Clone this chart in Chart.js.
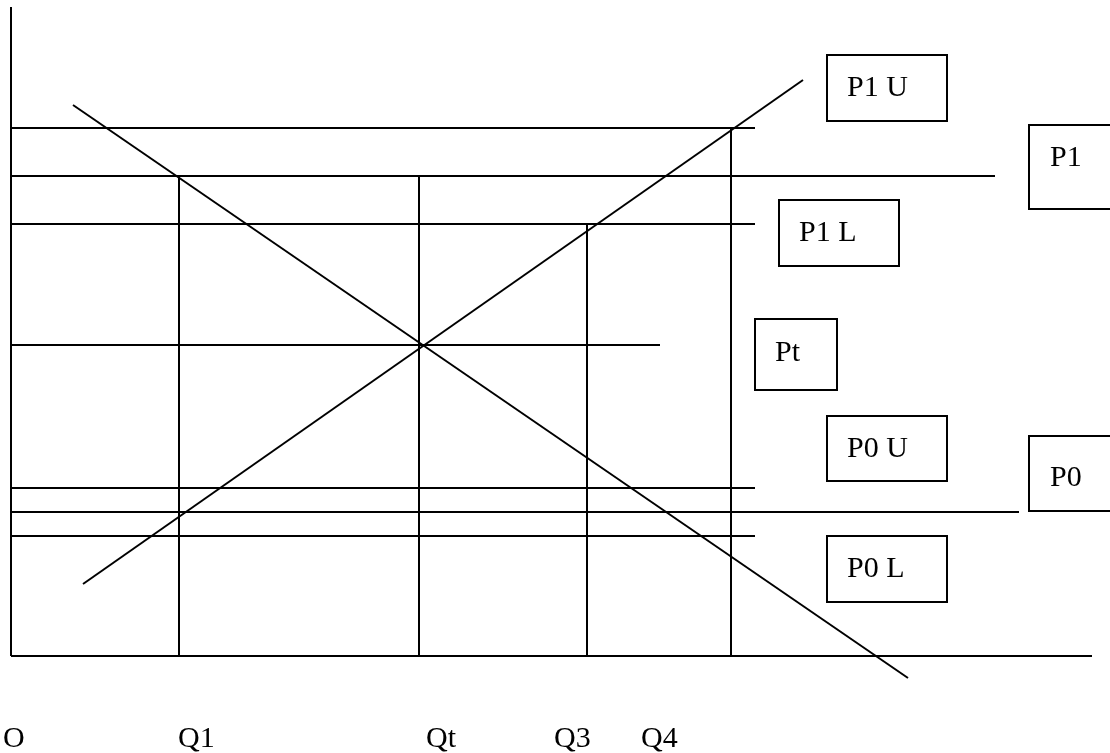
<!DOCTYPE html>
<html>
<head>
<meta charset="utf-8">
<script src="https://cdn.jsdelivr.net/npm/chart.js@4/dist/chart.umd.min.js"></script>
<style>
  body { margin: 0; background: #fff; }
  canvas { display: block; }
</style>
</head>
<body>
<canvas id="myChart" width="1110" height="753"></canvas>
<script>
// price levels (horizontal lines), measured from the origin O
let priceLabels = ['P1 U', 'P1', 'P1 L', 'Pt', 'P0 U', 'P0', 'P0 L'];
let priceLevels = [528, 480, 432, 311, 168, 144, 120];
let priceLineEnds = [744, 984, 744, 649, 744, 1008, 744];

// quantities (vertical lines)
let qtyLabels = ['O', 'Q1', 'Qt', 'Q3', 'Q4'];
let qtyLevels = [0, 168, 408, 576, 720];
let qtyLineTops = [0, 480, 480, 432, 528];

// demand and supply curves
let demandX = [62, 897];
let demandY = [551, -22];
let supplyX = [72, 792];
let supplyY = [72, 576];

// axes
let axisXEnd = 1081;
let axisYEnd = 649;

// where the text boxes and bottom labels sit (layout only)
const boxLayout = [
  { x: 816, y: 601, w: 120, h: 66, tx: 836, ty: 560 },  // P1 U
  { x: 1018, y: 531, w: 86, h: 84, tx: 1039, ty: 490 }, // P1
  { x: 768, y: 456, w: 120, h: 66, tx: 788, ty: 415 },  // P1 L
  { x: 744, y: 337, w: 82, h: 71, tx: 764, ty: 295 },   // Pt
  { x: 816, y: 240, w: 120, h: 65, tx: 836, ty: 199 },  // P0 U
  { x: 1018, y: 220, w: 86, h: 75, tx: 1039, ty: 170 }, // P0
  { x: 816, y: 120, w: 120, h: 66, tx: 836, ty: 79 },   // P0 L
];
const qtyTextX = [-8, 167, 415, 543, 630];
const qtyTextY = -91;

const FONT = '30px "Liberation Serif", "DejaVu Serif", serif';

function seg(x1, y1, x2, y2) {
  return {
    data: [{ x: x1, y: y1 }, { x: x2, y: y2 }],
    showLine: true,
    borderColor: '#000',
    borderWidth: 2,
    pointRadius: 0,
    fill: false,
  };
}

let datasets = [];
datasets.push(seg(0, 0, 0, axisYEnd));
datasets.push(seg(0, 0, axisXEnd, 0));
for (let i = 0; i < priceLevels.length; i++) {
  datasets.push(seg(0, priceLevels[i], priceLineEnds[i], priceLevels[i]));
}
for (let i = 1; i < qtyLevels.length; i++) {
  datasets.push(seg(qtyLevels[i], 0, qtyLevels[i], qtyLineTops[i]));
}
datasets.push(seg(demandX[0], demandY[0], demandX[1], demandY[1]));
datasets.push(seg(supplyX[0], supplyY[0], supplyX[1], supplyY[1]));

const labelsPlugin = {
  id: 'labels',
  afterDraw(chart) {
    const ctx = chart.ctx;
    const xs = chart.scales.x;
    const ys = chart.scales.y;
    ctx.save();
    ctx.font = FONT;
    ctx.fillStyle = '#000';
    ctx.strokeStyle = '#000';
    ctx.lineWidth = 2;
    ctx.textBaseline = 'alphabetic';
    ctx.textAlign = 'left';
    for (let i = 0; i < priceLabels.length; i++) {
      const b = boxLayout[i];
      const left = xs.getPixelForValue(b.x);
      const top = ys.getPixelForValue(b.y);
      ctx.strokeRect(left, top, b.w, b.h);
      ctx.fillText(priceLabels[i], xs.getPixelForValue(b.tx), ys.getPixelForValue(b.ty));
    }
    for (let i = 0; i < qtyLabels.length; i++) {
      ctx.fillText(qtyLabels[i], xs.getPixelForValue(qtyTextX[i]), ys.getPixelForValue(qtyTextY));
    }
    ctx.restore();
  }
};

window.onload = function() {
  const ctx = document.getElementById('myChart').getContext('2d');
  new Chart(ctx, {
    type: 'scatter',
    data: { datasets: datasets },
    options: {
      responsive: false,
      animation: false,
      devicePixelRatio: 1,
      layout: { padding: 0 },
      plugins: {
        legend: { display: false },
        tooltip: { enabled: false },
      },
      scales: {
        x: { type: 'linear', min: -11, max: 1099, display: false },
        y: { type: 'linear', min: -97, max: 656, display: false },
      },
    },
    plugins: [labelsPlugin],
  });
};
</script>
</body>
</html>
